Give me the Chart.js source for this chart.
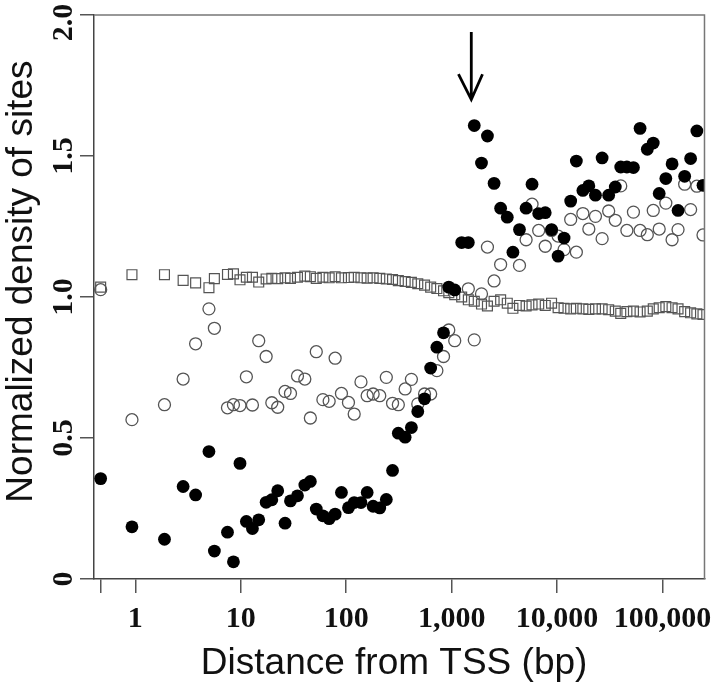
<!DOCTYPE html>
<html>
<head>
<meta charset="utf-8">
<script src="https://cdn.jsdelivr.net/npm/chart.js@4/dist/chart.umd.min.js"></script>
<style>
  body { margin: 0; background: #fff; }
</style>
</head>
<body>
<canvas id="myChart" width="720" height="687"></canvas>
<script>
// distance bins (bp), shared by the three series
const distances = [0.469, 0.929, 1.89, 2.84, 3.73, 4.99, 5.62, 7.48, 8.52, 9.83,
  11.3, 12.9, 14.8, 17.4, 19.7, 22.4, 26.3, 29.6, 34.5, 40.5,
  45.7, 52.0, 60.1, 68.9, 78.5, 90.1, 105, 119, 138, 158,
  180, 208, 240, 275, 312, 362, 415, 477, 553, 632,
  724, 837, 939, 1069, 1244, 1439, 1638, 1918, 2184, 2525,
  2913, 3368, 3809, 4396, 5080, 5783, 6688, 7716, 8857, 10220,
  11640, 13450, 15220, 17550, 19990, 23100, 26720, 30820, 35620, 40120,
  45880, 52940, 61200, 71660, 81610, 92910, 107400, 123100, 140200, 162000,
  184500, 211500, 241800]

const filledDensity = [0.356, 0.185, 0.141, 0.328, 0.298, 0.452, 0.099, 0.166, 0.061, 0.410,
  0.204, 0.179, 0.210, 0.272, 0.281, 0.313, 0.198, 0.277, 0.295, 0.333,
  0.346, 0.248, 0.224, 0.214, 0.230, 0.307, 0.253, 0.271, 0.271, 0.307,
  0.258, 0.252, 0.282, 0.385, 0.517, 0.503, 0.537, 0.594, 0.639, 0.748,
  0.822, 0.873, 1.035, 1.025, 1.193, 1.193, 1.608, 1.475, 1.571, 1.403,
  1.315, 1.283, 1.159, 1.239, 1.315, 1.400, 1.296, 1.299, 1.239, 1.145,
  1.209, 1.340, 1.482, 1.378, 1.394, 1.361, 1.493, 1.361, 1.390, 1.461,
  1.461, 1.459, 1.598, 1.524, 1.546, 1.367, 1.420, 1.472, 1.307, 1.428,
  1.491, 1.589, 1.396]

const openDensity = [1.026, 0.565, 0.618, 0.709, 0.834, 0.958, 0.889, 0.607, 0.618, 0.615,
  0.717, 0.617, 0.845, 0.789, 0.625, 0.609, 0.665, 0.658, 0.720, 0.709,
  0.571, 0.806, 0.636, 0.630, 0.783, 0.658, 0.626, 0.585, 0.699, 0.650,
  0.656, 0.650, 0.715, 0.623, 0.618, 0.674, 0.708, 0.621, 0.656, 0.656,
  0.739, 0.789, 0.883, 0.845, null, 1.029, 0.848, 1.011, 1.177, 1.057,
  1.115, null, null, 1.112, 1.203, 1.329, 1.236, 1.180, 1.236, 1.216,
  1.168, 1.275, 1.159, 1.296, 1.241, 1.286, 1.207, 1.305, 1.272, 1.394,
  1.236, 1.301, 1.236, 1.221, 1.307, 1.241, 1.333, 1.203, 1.239, 1.400,
  1.310, 1.393, 1.220]

const squareDensity = [1.035, 1.079, 1.079, 1.059, 1.050, 1.033, 1.065, 1.080, 1.082, 1.061,
  1.070, 1.070, 1.053, 1.064, 1.066, 1.065, 1.068, 1.066, 1.070, 1.074,
  1.072, 1.066, 1.070, 1.068, 1.072, 1.068, 1.069, 1.070, 1.068, 1.067,
  1.068, 1.066, 1.064, 1.062, 1.058, 1.055, 1.052, 1.047, 1.042, 1.035,
  1.030, 1.022, 1.015, 1.008, 1.000, 0.990, 0.985, 0.975, 0.968, 0.985,
  0.990, 0.978, 0.960, 0.970, 0.968, 0.972, 0.975, 0.970, 0.978, 0.962,
  0.960, 0.958, 0.960, 0.958, 0.956, 0.958, 0.958, 0.955, 0.950, 0.942,
  0.948, 0.950, 0.947, 0.950, 0.958, 0.962, 0.966, 0.962, 0.958, 0.948,
  0.944, 0.940, 0.938]

const xTicks = [0.469, 1, 10, 100, 1000, 10000, 100000]
const xTickLabels = ['', '1', '10', '100', '1,000', '10,000', '100,000']
const yTicks = [0, 0.5, 1, 1.5, 2]
const yTickLabels = ['0', '0.5', '1.0', '1.5', '2.0  ']

// arrow marking the peak (data coords)
const arrowX = 1535
const arrowTop = 1.94
const arrowTip = 1.70
const arrowHeadY = 1.79
const arrowHeadLeft = 1160
const arrowHeadRight = 1960

const toPoints = ys => distances
  .map((d, i) => ({ x: d, y: ys[i] }))
  .filter(p => p.y !== null)

const tickFont = { family: '"Liberation Serif", "Times New Roman", serif', size: 30, weight: 'bold' }
const titleFont = { family: '"Liberation Sans", Arial, sans-serif', size: 37 }

const extras = {
  id: 'extras',
  afterDraw(chart) {
    const { ctx, chartArea: a, scales: { x, y } } = chart
    ctx.save()
    // top and right frame
    ctx.strokeStyle = '#777'
    ctx.lineWidth = 1.5
    ctx.beginPath()
    ctx.moveTo(a.left, a.top)
    ctx.lineTo(a.right, a.top)
    ctx.lineTo(a.right, a.bottom)
    ctx.stroke()
    // arrow
    ctx.strokeStyle = '#000'
    ctx.lineWidth = 2.8
    ctx.beginPath()
    ctx.moveTo(x.getPixelForValue(arrowX), y.getPixelForValue(arrowTop))
    ctx.lineTo(x.getPixelForValue(arrowX), y.getPixelForValue(arrowTip))
    ctx.moveTo(x.getPixelForValue(arrowHeadLeft), y.getPixelForValue(arrowHeadY))
    ctx.lineTo(x.getPixelForValue(arrowX), y.getPixelForValue(arrowTip))
    ctx.lineTo(x.getPixelForValue(arrowHeadRight), y.getPixelForValue(arrowHeadY))
    ctx.stroke()
    ctx.restore()
  }
}

const config = {
  type: 'scatter',
  data: {
    datasets: [
      {
        label: 'filled',
        data: toPoints(filledDensity),
        pointStyle: 'circle',
        pointRadius: 6.4,
        backgroundColor: '#000',
        borderColor: '#000',
        borderWidth: 0
      },
      {
        label: 'open',
        data: toPoints(openDensity),
        pointStyle: 'circle',
        pointRadius: 6,
        backgroundColor: 'rgba(0,0,0,0)',
        borderColor: '#555',
        borderWidth: 1.3
      },
      {
        label: 'squares',
        data: toPoints(squareDensity),
        pointStyle: 'rect',
        pointRadius: 7,
        backgroundColor: 'rgba(0,0,0,0)',
        borderColor: '#555',
        borderWidth: 1.2
      }
    ]
  },
  options: {
    responsive: false,
    animation: false,
    layout: { padding: { top: 15, right: 10, left: 0, bottom: 0 } },
    plugins: { legend: { display: false }, tooltip: { enabled: false } },
    scales: {
      x: {
        type: 'logarithmic',
        min: 0.4056,
        max: 249800,
        afterBuildTicks: s => { s.ticks = xTicks.map(v => ({ value: v })) },
        afterFit: s => { s.height = 108 },
        grid: { drawOnChartArea: false, tickLength: 14, color: '#555', lineWidth: 1.5 },
        border: { color: '#444', width: 1.5 },
        ticks: {
          font: tickFont,
          color: '#111',
          padding: 8,
          maxRotation: 0,
          autoSkip: false,
          callback: (v, i) => xTickLabels[i]
        },
        title: { display: true, text: 'Distance from TSS (bp) ', font: titleFont, color: '#111', padding: { top: 0, bottom: 1 } }
      },
      y: {
        min: 0,
        max: 2,
        afterBuildTicks: s => { s.ticks = yTicks.map(v => ({ value: v })) },
        afterFit: s => { s.width = 94 },
        grid: { drawOnChartArea: false, tickLength: 14, color: '#555', lineWidth: 1.5 },
        border: { color: '#444', width: 1.5 },
        ticks: {
          font: tickFont,
          color: '#111',
          padding: -10,
          minRotation: 90,
          maxRotation: 90,
          crossAlign: 'center',
          callback: (v, i) => yTickLabels[i]
        },
        title: { display: true, text: '   Normalized density of sites', font: titleFont, color: '#111', padding: { top: 0, bottom: 0 } }
      }
    }
  },
  plugins: [extras]
}

new Chart(document.getElementById('myChart'), config)
</script>
</body>
</html>
